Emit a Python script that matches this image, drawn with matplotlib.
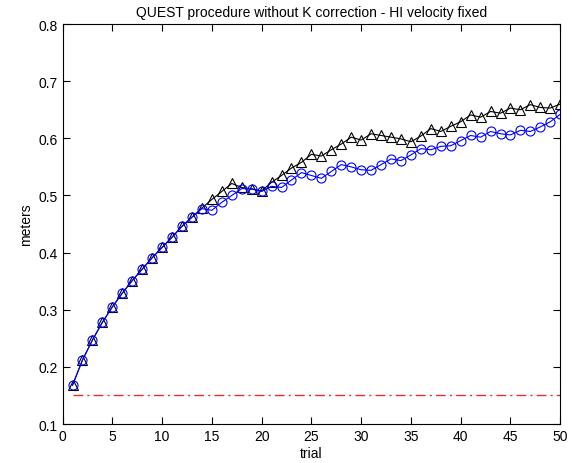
import numpy as np
import matplotlib
matplotlib.use('Agg')
import matplotlib.pyplot as plt

plt.rcParams['font.family'] = ['Liberation Sans', 'DejaVu Sans']

trials = np.arange(1, 51)

# black triangles
with_tri = [0.168, 0.212, 0.247, 0.278, 0.305, 0.329, 0.351, 0.371, 0.391, 0.409,
            0.427, 0.446, 0.462, 0.478, 0.493, 0.507, 0.521, 0.514, 0.511, 0.508,
            0.523, 0.535, 0.548, 0.558, 0.572, 0.569, 0.580, 0.590, 0.602, 0.597,
            0.608, 0.605, 0.602, 0.599, 0.594, 0.604, 0.617, 0.612, 0.621, 0.629,
            0.641, 0.637, 0.647, 0.644, 0.653, 0.650, 0.659, 0.654, 0.653, 0.660]

# blue circles
with_circ = [0.168, 0.212, 0.247, 0.278, 0.305, 0.329, 0.351, 0.371, 0.391, 0.409,
             0.427, 0.446, 0.462, 0.477, 0.474, 0.488, 0.500, 0.512, 0.512, 0.507,
             0.516, 0.514, 0.527, 0.540, 0.535, 0.530, 0.542, 0.554, 0.550, 0.545,
             0.544, 0.554, 0.564, 0.561, 0.571, 0.582, 0.580, 0.586, 0.587, 0.596,
             0.605, 0.602, 0.612, 0.608, 0.606, 0.614, 0.612, 0.620, 0.629, 0.642]

threshold = 0.15

fig = plt.figure(figsize=(5.74, 4.64), dpi=100)
ax = fig.add_axes([0.109, 0.084, 0.867, 0.862])

ax.plot(trials, with_tri, color='black', linewidth=0.8, marker='^',
        markersize=7.5, markerfacecolor='none', markeredgecolor='black', markeredgewidth=0.8)
ax.plot(trials, with_circ, color='blue', linewidth=0.8, marker='o',
        markersize=6.5, markerfacecolor='none', markeredgecolor='blue', markeredgewidth=0.8)
ax.plot([1, 50], [threshold, threshold], color='#e03030', linewidth=1,
        linestyle=(0, (7, 3, 1.5, 3)))

ax.set_xlim(0, 50)
ax.set_ylim(0.1, 0.8)
ax.set_xticks(np.arange(0, 51, 5))
ax.set_yticks(np.arange(0.1, 0.81, 0.1))
ax.set_yticklabels(['0.1', '0.2', '0.3', '0.4', '0.5', '0.6', '0.7', '0.8'])
ax.tick_params(direction='in', top=True, right=True, labelsize=10, length=5)
ax.set_xlabel('trial', fontsize=10, labelpad=2)
ax.set_ylabel('meters', fontsize=10)
ax.set_title('QUEST procedure without K correction - HI velocity fixed', fontsize=10)

fig.savefig('out.png', dpi=100)
